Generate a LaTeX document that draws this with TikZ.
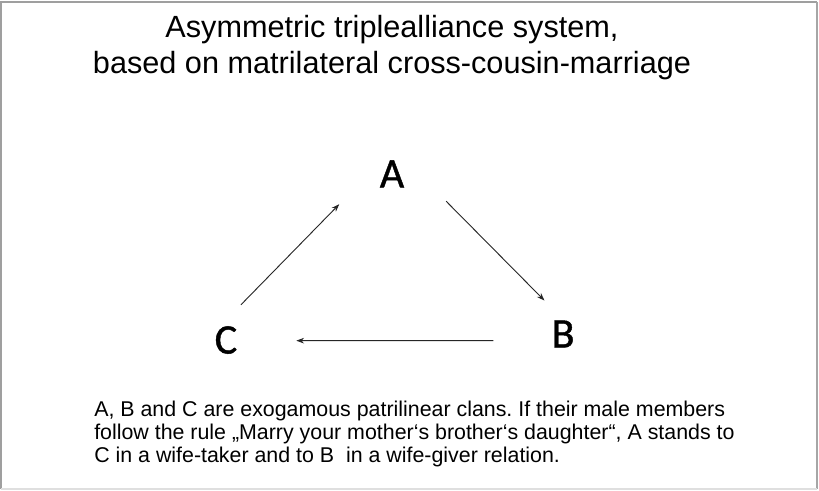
\documentclass[tikz,border=0pt]{standalone}
\usepackage{fontspec}
\setmainfont{Liberation Sans}
\newfontfamily\clanfont[FakeBold=1]{Carlito}
\usetikzlibrary{arrows.meta}
\frenchspacing

\tikzset{
    clan/.style={circle, inner sep=0pt, minimum size=1.9cm, font=\clanfont\fontsize{30}{32}\selectfont},
    relation/.style={-{Stealth[length=5.5pt, width=4pt]}, line width=0.65pt, black!85},
}

\begin{document}
\begin{tikzpicture}[x=0.025cm, y=-0.025cm]

        \useasboundingbox (0,0) rectangle (819,491);
        \fill[white] (0,0) rectangle (819,491);

        %Frame
        \draw[gray!75, line width=1pt] (1,489) -- (1,2) -- (817,2);
        \draw[gray!70, line width=1.6pt] (817,2) -- (817,489);
        \draw[gray!25, line width=1pt] (1,489) -- (817,489);

        %Title
        \node[anchor=north, inner sep=0pt, align=center,
              font=\fontsize{21.8}{24.9}\selectfont] (title) at (392,15.5)
            {Asymmetric triplealliance system,\\based on matrilateral cross-cousin-marriage};

        %Clans
        \node[clan] (A) at (392,174) {A};
        \node[clan] (B) at (563,334) {B};
        \node[clan] (C) at (226,340) {C};

        %Relations
        \draw[relation, shorten >=0.6cm] (C.67) -- (A.200);
        \draw[relation, shorten <=0.61cm] (A.345) -- (B.119);
        \draw[relation, shorten <=0.8cm, shorten >=0.8cm] (B.190) -- (C.-1);

        %Explanation
        \node[anchor=north west, inner sep=0pt, align=left,
              font=\fontsize{15.2}{16.2}\selectfont] (note) at (94,401)
            {A, B and C are exogamous patrilinear clans. If their male members\\
             follow the rule „Marry your mother‘s brother‘s daughter“, A stands to\\
             C in a wife-taker and to B\ \ in a wife-giver relation.};

    \end{tikzpicture}
\end{document}
